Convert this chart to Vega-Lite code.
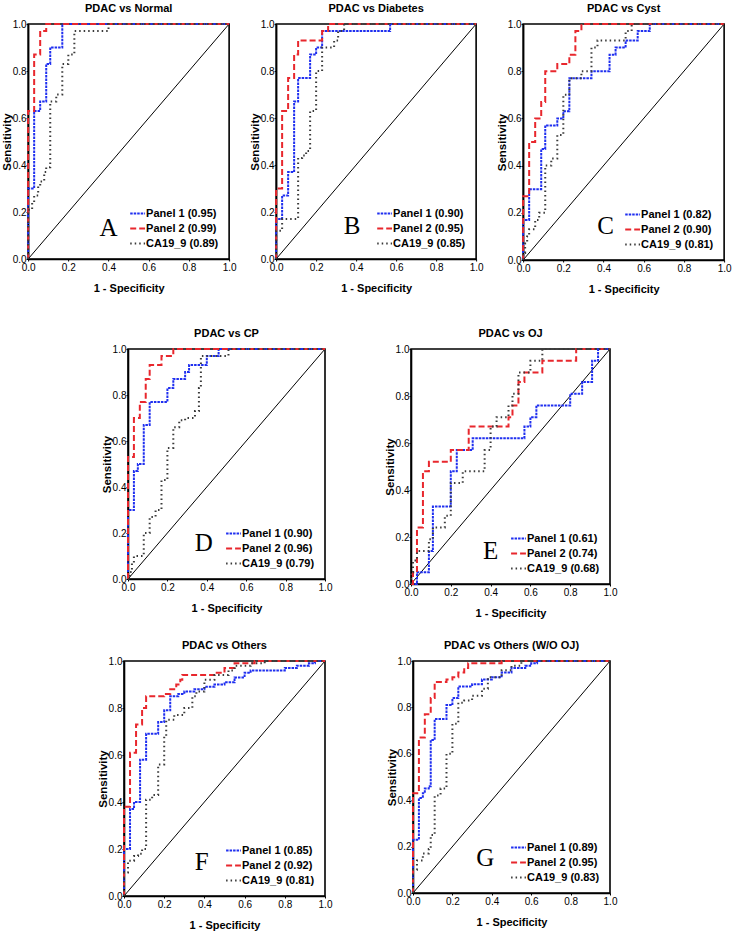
{
"$schema":"https://vega.github.io/schema/vega-lite/v6.json",
"padding":{"left":0,"top":2,"right":0,"bottom":0},
"config":{
 "view":{"stroke":"#000","strokeWidth":1.6},
 "axis":{"labelFont":"Liberation Sans","labelFontSize":10,"labelColor":"#000","labelFlush":false,"titleFont":"Liberation Sans","titleFontSize":11,"titleFontWeight":"bold","titleColor":"#000","domainColor":"#000","domainWidth":1.6,"tickColor":"#000","grid":false,"tickSize":2,"labelPadding":1,"tickCount":5},
 "axisX":{"titlePadding":10},
 "axisY":{"titlePadding":0,"labelPadding":0,"titleFontSize":11.5},
 "title":{"font":"Liberation Sans","fontSize":11,"fontWeight":"bold","color":"#000","offset":5},
 "legend":{"orient":"bottom-right","offset":10,"labelFont":"Liberation Sans","labelFontSize":11,"labelFontWeight":"bold","labelColor":"#000","symbolType":"stroke","symbolSize":220,"symbolStrokeWidth":2,"rowPadding":1,"padding":0,"labelOffset":0}
},
"datasets":{
"A":[
{"s":"Panel 1 (0.95)","x":0,"y":0},{"s":"Panel 1 (0.95)","x":0,"y":0.3},{"s":"Panel 1 (0.95)","x":0.03,"y":0.63},{"s":"Panel 1 (0.95)","x":0.06,"y":0.67},{"s":"Panel 1 (0.95)","x":0.09,"y":0.83},{"s":"Panel 1 (0.95)","x":0.11,"y":0.9},{"s":"Panel 1 (0.95)","x":0.17,"y":1},{"s":"Panel 1 (0.95)","x":1,"y":1},
{"s":"Panel 2 (0.99)","x":0,"y":0},{"s":"Panel 2 (0.99)","x":0,"y":0.63},{"s":"Panel 2 (0.99)","x":0.03,"y":0.87},{"s":"Panel 2 (0.99)","x":0.06,"y":0.97},{"s":"Panel 2 (0.99)","x":0.09,"y":1},{"s":"Panel 2 (0.99)","x":1,"y":1},
{"s":"CA19_9 (0.89)","x":0,"y":0},{"s":"CA19_9 (0.89)","x":0,"y":0.21},{"s":"CA19_9 (0.89)","x":0.02,"y":0.24},{"s":"CA19_9 (0.89)","x":0.03,"y":0.27},{"s":"CA19_9 (0.89)","x":0.05,"y":0.31},{"s":"CA19_9 (0.89)","x":0.06,"y":0.33},{"s":"CA19_9 (0.89)","x":0.08,"y":0.37},{"s":"CA19_9 (0.89)","x":0.09,"y":0.39},{"s":"CA19_9 (0.89)","x":0.11,"y":0.4},{"s":"CA19_9 (0.89)","x":0.11,"y":0.67},{"s":"CA19_9 (0.89)","x":0.14,"y":0.7},{"s":"CA19_9 (0.89)","x":0.17,"y":0.83},{"s":"CA19_9 (0.89)","x":0.2,"y":0.87},{"s":"CA19_9 (0.89)","x":0.23,"y":0.97},{"s":"CA19_9 (0.89)","x":0.4,"y":1},{"s":"CA19_9 (0.89)","x":1,"y":1}
],
"B":[
{"s":"Panel 1 (0.90)","x":0,"y":0},{"s":"Panel 1 (0.90)","x":0,"y":0.17},{"s":"Panel 1 (0.90)","x":0.03,"y":0.27},{"s":"Panel 1 (0.90)","x":0.06,"y":0.37},{"s":"Panel 1 (0.90)","x":0.09,"y":0.67},{"s":"Panel 1 (0.90)","x":0.11,"y":0.77},{"s":"Panel 1 (0.90)","x":0.17,"y":0.87},{"s":"Panel 1 (0.90)","x":0.2,"y":0.9},{"s":"Panel 1 (0.90)","x":0.23,"y":0.97},{"s":"Panel 1 (0.90)","x":0.57,"y":1},{"s":"Panel 1 (0.90)","x":1,"y":1},
{"s":"Panel 2 (0.95)","x":0,"y":0},{"s":"Panel 2 (0.95)","x":0,"y":0.3},{"s":"Panel 2 (0.95)","x":0.03,"y":0.63},{"s":"Panel 2 (0.95)","x":0.06,"y":0.77},{"s":"Panel 2 (0.95)","x":0.09,"y":0.87},{"s":"Panel 2 (0.95)","x":0.11,"y":0.93},{"s":"Panel 2 (0.95)","x":0.23,"y":0.97},{"s":"Panel 2 (0.95)","x":0.26,"y":1},{"s":"Panel 2 (0.95)","x":1,"y":1},
{"s":"CA19_9 (0.85)","x":0,"y":0},{"s":"CA19_9 (0.85)","x":0,"y":0.12},{"s":"CA19_9 (0.85)","x":0.03,"y":0.17},{"s":"CA19_9 (0.85)","x":0.11,"y":0.43},{"s":"CA19_9 (0.85)","x":0.13,"y":0.44},{"s":"CA19_9 (0.85)","x":0.15,"y":0.46},{"s":"CA19_9 (0.85)","x":0.17,"y":0.63},{"s":"CA19_9 (0.85)","x":0.2,"y":0.8},{"s":"CA19_9 (0.85)","x":0.23,"y":0.9},{"s":"CA19_9 (0.85)","x":0.29,"y":0.93},{"s":"CA19_9 (0.85)","x":0.31,"y":0.97},{"s":"CA19_9 (0.85)","x":0.34,"y":1},{"s":"CA19_9 (0.85)","x":1,"y":1}
],
"C":[
{"s":"Panel 1 (0.82)","x":0,"y":0},{"s":"Panel 1 (0.82)","x":0,"y":0.17},{"s":"Panel 1 (0.82)","x":0.03,"y":0.3},{"s":"Panel 1 (0.82)","x":0.09,"y":0.47},{"s":"Panel 1 (0.82)","x":0.11,"y":0.57},{"s":"Panel 1 (0.82)","x":0.17,"y":0.6},{"s":"Panel 1 (0.82)","x":0.2,"y":0.63},{"s":"Panel 1 (0.82)","x":0.23,"y":0.77},{"s":"Panel 1 (0.82)","x":0.34,"y":0.8},{"s":"Panel 1 (0.82)","x":0.43,"y":0.87},{"s":"Panel 1 (0.82)","x":0.46,"y":0.9},{"s":"Panel 1 (0.82)","x":0.51,"y":0.93},{"s":"Panel 1 (0.82)","x":0.57,"y":0.97},{"s":"Panel 1 (0.82)","x":0.63,"y":1},{"s":"Panel 1 (0.82)","x":1,"y":1},
{"s":"Panel 2 (0.90)","x":0,"y":0},{"s":"Panel 2 (0.90)","x":0,"y":0.27},{"s":"Panel 2 (0.90)","x":0.03,"y":0.5},{"s":"Panel 2 (0.90)","x":0.06,"y":0.6},{"s":"Panel 2 (0.90)","x":0.09,"y":0.67},{"s":"Panel 2 (0.90)","x":0.11,"y":0.8},{"s":"Panel 2 (0.90)","x":0.17,"y":0.83},{"s":"Panel 2 (0.90)","x":0.23,"y":0.87},{"s":"Panel 2 (0.90)","x":0.26,"y":0.97},{"s":"Panel 2 (0.90)","x":0.29,"y":1},{"s":"Panel 2 (0.90)","x":1,"y":1},
{"s":"CA19_9 (0.81)","x":0,"y":0},{"s":"CA19_9 (0.81)","x":0,"y":0.03},{"s":"CA19_9 (0.81)","x":0.01,"y":0.07},{"s":"CA19_9 (0.81)","x":0.02,"y":0.1},{"s":"CA19_9 (0.81)","x":0.03,"y":0.13},{"s":"CA19_9 (0.81)","x":0.06,"y":0.17},{"s":"CA19_9 (0.81)","x":0.08,"y":0.2},{"s":"CA19_9 (0.81)","x":0.11,"y":0.4},{"s":"CA19_9 (0.81)","x":0.14,"y":0.43},{"s":"CA19_9 (0.81)","x":0.17,"y":0.53},{"s":"CA19_9 (0.81)","x":0.2,"y":0.7},{"s":"CA19_9 (0.81)","x":0.23,"y":0.77},{"s":"CA19_9 (0.81)","x":0.29,"y":0.8},{"s":"CA19_9 (0.81)","x":0.34,"y":0.9},{"s":"CA19_9 (0.81)","x":0.37,"y":0.93},{"s":"CA19_9 (0.81)","x":0.51,"y":0.97},{"s":"CA19_9 (0.81)","x":0.54,"y":1},{"s":"CA19_9 (0.81)","x":1,"y":1}
],
"D":[
{"s":"Panel 1 (0.90)","x":0,"y":0},{"s":"Panel 1 (0.90)","x":0,"y":0.3},{"s":"Panel 1 (0.90)","x":0.03,"y":0.47},{"s":"Panel 1 (0.90)","x":0.05,"y":0.5},{"s":"Panel 1 (0.90)","x":0.08,"y":0.67},{"s":"Panel 1 (0.90)","x":0.11,"y":0.77},{"s":"Panel 1 (0.90)","x":0.2,"y":0.83},{"s":"Panel 1 (0.90)","x":0.23,"y":0.87},{"s":"Panel 1 (0.90)","x":0.29,"y":0.9},{"s":"Panel 1 (0.90)","x":0.31,"y":0.93},{"s":"Panel 1 (0.90)","x":0.4,"y":0.97},{"s":"Panel 1 (0.90)","x":0.46,"y":1},{"s":"Panel 1 (0.90)","x":1,"y":1},
{"s":"Panel 2 (0.96)","x":0,"y":0},{"s":"Panel 2 (0.96)","x":0,"y":0.53},{"s":"Panel 2 (0.96)","x":0.03,"y":0.7},{"s":"Panel 2 (0.96)","x":0.06,"y":0.77},{"s":"Panel 2 (0.96)","x":0.09,"y":0.87},{"s":"Panel 2 (0.96)","x":0.11,"y":0.93},{"s":"Panel 2 (0.96)","x":0.17,"y":0.97},{"s":"Panel 2 (0.96)","x":0.23,"y":1},{"s":"Panel 2 (0.96)","x":1,"y":1},
{"s":"CA19_9 (0.79)","x":0,"y":0},{"s":"CA19_9 (0.79)","x":0.01,"y":0.03},{"s":"CA19_9 (0.79)","x":0.02,"y":0.07},{"s":"CA19_9 (0.79)","x":0.03,"y":0.1},{"s":"CA19_9 (0.79)","x":0.08,"y":0.2},{"s":"CA19_9 (0.79)","x":0.11,"y":0.27},{"s":"CA19_9 (0.79)","x":0.14,"y":0.3},{"s":"CA19_9 (0.79)","x":0.17,"y":0.43},{"s":"CA19_9 (0.79)","x":0.2,"y":0.57},{"s":"CA19_9 (0.79)","x":0.23,"y":0.66},{"s":"CA19_9 (0.79)","x":0.26,"y":0.69},{"s":"CA19_9 (0.79)","x":0.29,"y":0.7},{"s":"CA19_9 (0.79)","x":0.34,"y":0.73},{"s":"CA19_9 (0.79)","x":0.36,"y":0.83},{"s":"CA19_9 (0.79)","x":0.37,"y":0.97},{"s":"CA19_9 (0.79)","x":0.51,"y":1},{"s":"CA19_9 (0.79)","x":1,"y":1}
],
"E":[
{"s":"Panel 1 (0.61)","x":0,"y":0},{"s":"Panel 1 (0.61)","x":0.03,"y":0.05},{"s":"Panel 1 (0.61)","x":0.09,"y":0.14},{"s":"Panel 1 (0.61)","x":0.11,"y":0.33},{"s":"Panel 1 (0.61)","x":0.2,"y":0.48},{"s":"Panel 1 (0.61)","x":0.23,"y":0.57},{"s":"Panel 1 (0.61)","x":0.31,"y":0.62},{"s":"Panel 1 (0.61)","x":0.57,"y":0.67},{"s":"Panel 1 (0.61)","x":0.6,"y":0.71},{"s":"Panel 1 (0.61)","x":0.63,"y":0.76},{"s":"Panel 1 (0.61)","x":0.8,"y":0.81},{"s":"Panel 1 (0.61)","x":0.86,"y":0.86},{"s":"Panel 1 (0.61)","x":0.91,"y":0.95},{"s":"Panel 1 (0.61)","x":0.94,"y":1},{"s":"Panel 1 (0.61)","x":1,"y":1},
{"s":"Panel 2 (0.74)","x":0,"y":0},{"s":"Panel 2 (0.74)","x":0.01,"y":0.05},{"s":"Panel 2 (0.74)","x":0.03,"y":0.24},{"s":"Panel 2 (0.74)","x":0.06,"y":0.48},{"s":"Panel 2 (0.74)","x":0.09,"y":0.52},{"s":"Panel 2 (0.74)","x":0.2,"y":0.57},{"s":"Panel 2 (0.74)","x":0.29,"y":0.67},{"s":"Panel 2 (0.74)","x":0.49,"y":0.71},{"s":"Panel 2 (0.74)","x":0.51,"y":0.76},{"s":"Panel 2 (0.74)","x":0.54,"y":0.86},{"s":"Panel 2 (0.74)","x":0.57,"y":0.9},{"s":"Panel 2 (0.74)","x":0.66,"y":0.95},{"s":"Panel 2 (0.74)","x":0.83,"y":1},{"s":"Panel 2 (0.74)","x":1,"y":1},
{"s":"CA19_9 (0.68)","x":0,"y":0},{"s":"CA19_9 (0.68)","x":0,"y":0.05},{"s":"CA19_9 (0.68)","x":0.01,"y":0.1},{"s":"CA19_9 (0.68)","x":0.03,"y":0.14},{"s":"CA19_9 (0.68)","x":0.09,"y":0.19},{"s":"CA19_9 (0.68)","x":0.11,"y":0.24},{"s":"CA19_9 (0.68)","x":0.17,"y":0.29},{"s":"CA19_9 (0.68)","x":0.2,"y":0.43},{"s":"CA19_9 (0.68)","x":0.26,"y":0.48},{"s":"CA19_9 (0.68)","x":0.37,"y":0.57},{"s":"CA19_9 (0.68)","x":0.4,"y":0.67},{"s":"CA19_9 (0.68)","x":0.43,"y":0.71},{"s":"CA19_9 (0.68)","x":0.49,"y":0.76},{"s":"CA19_9 (0.68)","x":0.51,"y":0.81},{"s":"CA19_9 (0.68)","x":0.54,"y":0.9},{"s":"CA19_9 (0.68)","x":0.6,"y":0.95},{"s":"CA19_9 (0.68)","x":0.66,"y":1},{"s":"CA19_9 (0.68)","x":1,"y":1}
],
"F":[
{"s":"Panel 1 (0.85)","x":0,"y":0},{"s":"Panel 1 (0.85)","x":0,"y":0.2},{"s":"Panel 1 (0.85)","x":0.03,"y":0.37},{"s":"Panel 1 (0.85)","x":0.05,"y":0.4},{"s":"Panel 1 (0.85)","x":0.08,"y":0.58},{"s":"Panel 1 (0.85)","x":0.11,"y":0.69},{"s":"Panel 1 (0.85)","x":0.17,"y":0.74},{"s":"Panel 1 (0.85)","x":0.2,"y":0.79},{"s":"Panel 1 (0.85)","x":0.23,"y":0.85},{"s":"Panel 1 (0.85)","x":0.27,"y":0.86},{"s":"Panel 1 (0.85)","x":0.3,"y":0.87},{"s":"Panel 1 (0.85)","x":0.35,"y":0.88},{"s":"Panel 1 (0.85)","x":0.4,"y":0.89},{"s":"Panel 1 (0.85)","x":0.45,"y":0.9},{"s":"Panel 1 (0.85)","x":0.5,"y":0.91},{"s":"Panel 1 (0.85)","x":0.55,"y":0.93},{"s":"Panel 1 (0.85)","x":0.6,"y":0.95},{"s":"Panel 1 (0.85)","x":0.63,"y":0.96},{"s":"Panel 1 (0.85)","x":0.8,"y":0.97},{"s":"Panel 1 (0.85)","x":0.86,"y":0.98},{"s":"Panel 1 (0.85)","x":0.92,"y":0.99},{"s":"Panel 1 (0.85)","x":0.95,"y":1},{"s":"Panel 1 (0.85)","x":1,"y":1},
{"s":"Panel 2 (0.92)","x":0,"y":0},{"s":"Panel 2 (0.92)","x":0,"y":0.38},{"s":"Panel 2 (0.92)","x":0.03,"y":0.61},{"s":"Panel 2 (0.92)","x":0.06,"y":0.73},{"s":"Panel 2 (0.92)","x":0.09,"y":0.8},{"s":"Panel 2 (0.92)","x":0.11,"y":0.85},{"s":"Panel 2 (0.92)","x":0.2,"y":0.86},{"s":"Panel 2 (0.92)","x":0.23,"y":0.88},{"s":"Panel 2 (0.92)","x":0.26,"y":0.9},{"s":"Panel 2 (0.92)","x":0.28,"y":0.92},{"s":"Panel 2 (0.92)","x":0.29,"y":0.94},{"s":"Panel 2 (0.92)","x":0.45,"y":0.95},{"s":"Panel 2 (0.92)","x":0.5,"y":0.97},{"s":"Panel 2 (0.92)","x":0.55,"y":0.99},{"s":"Panel 2 (0.92)","x":0.65,"y":1},{"s":"Panel 2 (0.92)","x":1,"y":1},
{"s":"CA19_9 (0.81)","x":0,"y":0},{"s":"CA19_9 (0.81)","x":0,"y":0.1},{"s":"CA19_9 (0.81)","x":0.02,"y":0.15},{"s":"CA19_9 (0.81)","x":0.05,"y":0.17},{"s":"CA19_9 (0.81)","x":0.07,"y":0.18},{"s":"CA19_9 (0.81)","x":0.09,"y":0.2},{"s":"CA19_9 (0.81)","x":0.11,"y":0.41},{"s":"CA19_9 (0.81)","x":0.14,"y":0.43},{"s":"CA19_9 (0.81)","x":0.17,"y":0.56},{"s":"CA19_9 (0.81)","x":0.2,"y":0.68},{"s":"CA19_9 (0.81)","x":0.21,"y":0.75},{"s":"CA19_9 (0.81)","x":0.25,"y":0.77},{"s":"CA19_9 (0.81)","x":0.3,"y":0.8},{"s":"CA19_9 (0.81)","x":0.34,"y":0.85},{"s":"CA19_9 (0.81)","x":0.36,"y":0.87},{"s":"CA19_9 (0.81)","x":0.4,"y":0.92},{"s":"CA19_9 (0.81)","x":0.45,"y":0.94},{"s":"CA19_9 (0.81)","x":0.52,"y":0.96},{"s":"CA19_9 (0.81)","x":0.55,"y":0.98},{"s":"CA19_9 (0.81)","x":0.63,"y":0.99},{"s":"CA19_9 (0.81)","x":0.7,"y":1},{"s":"CA19_9 (0.81)","x":1,"y":1}
],
"G":[
{"s":"Panel 1 (0.89)","x":0,"y":0},{"s":"Panel 1 (0.89)","x":0,"y":0.23},{"s":"Panel 1 (0.89)","x":0.03,"y":0.41},{"s":"Panel 1 (0.89)","x":0.05,"y":0.43},{"s":"Panel 1 (0.89)","x":0.06,"y":0.45},{"s":"Panel 1 (0.89)","x":0.08,"y":0.46},{"s":"Panel 1 (0.89)","x":0.09,"y":0.66},{"s":"Panel 1 (0.89)","x":0.11,"y":0.75},{"s":"Panel 1 (0.89)","x":0.17,"y":0.81},{"s":"Panel 1 (0.89)","x":0.2,"y":0.84},{"s":"Panel 1 (0.89)","x":0.23,"y":0.89},{"s":"Panel 1 (0.89)","x":0.3,"y":0.9},{"s":"Panel 1 (0.89)","x":0.35,"y":0.92},{"s":"Panel 1 (0.89)","x":0.4,"y":0.93},{"s":"Panel 1 (0.89)","x":0.45,"y":0.95},{"s":"Panel 1 (0.89)","x":0.5,"y":0.97},{"s":"Panel 1 (0.89)","x":0.57,"y":0.98},{"s":"Panel 1 (0.89)","x":0.6,"y":0.99},{"s":"Panel 1 (0.89)","x":0.63,"y":1},{"s":"Panel 1 (0.89)","x":1,"y":1},
{"s":"Panel 2 (0.95)","x":0,"y":0},{"s":"Panel 2 (0.95)","x":0,"y":0.43},{"s":"Panel 2 (0.95)","x":0.03,"y":0.67},{"s":"Panel 2 (0.95)","x":0.06,"y":0.77},{"s":"Panel 2 (0.95)","x":0.09,"y":0.84},{"s":"Panel 2 (0.95)","x":0.11,"y":0.91},{"s":"Panel 2 (0.95)","x":0.17,"y":0.92},{"s":"Panel 2 (0.95)","x":0.2,"y":0.93},{"s":"Panel 2 (0.95)","x":0.23,"y":0.95},{"s":"Panel 2 (0.95)","x":0.26,"y":0.97},{"s":"Panel 2 (0.95)","x":0.28,"y":0.99},{"s":"Panel 2 (0.95)","x":0.45,"y":1},{"s":"Panel 2 (0.95)","x":1,"y":1},
{"s":"CA19_9 (0.83)","x":0,"y":0},{"s":"CA19_9 (0.83)","x":0,"y":0.1},{"s":"CA19_9 (0.83)","x":0.02,"y":0.14},{"s":"CA19_9 (0.83)","x":0.05,"y":0.17},{"s":"CA19_9 (0.83)","x":0.08,"y":0.19},{"s":"CA19_9 (0.83)","x":0.09,"y":0.25},{"s":"CA19_9 (0.83)","x":0.11,"y":0.42},{"s":"CA19_9 (0.83)","x":0.14,"y":0.45},{"s":"CA19_9 (0.83)","x":0.17,"y":0.6},{"s":"CA19_9 (0.83)","x":0.2,"y":0.73},{"s":"CA19_9 (0.83)","x":0.23,"y":0.82},{"s":"CA19_9 (0.83)","x":0.26,"y":0.83},{"s":"CA19_9 (0.83)","x":0.3,"y":0.85},{"s":"CA19_9 (0.83)","x":0.35,"y":0.88},{"s":"CA19_9 (0.83)","x":0.38,"y":0.93},{"s":"CA19_9 (0.83)","x":0.45,"y":0.96},{"s":"CA19_9 (0.83)","x":0.5,"y":0.98},{"s":"CA19_9 (0.83)","x":0.55,"y":1},{"s":"CA19_9 (0.83)","x":1,"y":1}
]
},
"vconcat":[
{"hconcat":[
 {"title":"PDAC vs Normal","width":201,"height":235,"layer":[
  {"data":{"values":[{}]},"mark":{"type":"rule","color":"#000","strokeWidth":1},"encoding":{"x":{"datum":0,"type":"quantitative","scale":{"domain":[0,1]},"title":"1 - Specificity","axis":{"format":".1f"}},"y":{"datum":0,"type":"quantitative","scale":{"domain":[0,1]},"title":"Sensitivity","axis":{"format":".1f"}},"x2":{"datum":1},"y2":{"datum":1}}},
  {"data":{"name":"A"},"mark":{"type":"line","interpolate":"step-after","strokeWidth":2},"encoding":{"x":{"field":"x","type":"quantitative","scale":{"domain":[0,1]},"title":"1 - Specificity","axis":{"format":".1f"}},"y":{"field":"y","type":"quantitative","scale":{"domain":[0,1]},"title":"Sensitivity","axis":{"format":".1f"}},"color":{"field":"s","type":"nominal","scale":{"domain":["Panel 1 (0.95)","Panel 2 (0.99)","CA19_9 (0.89)"],"range":["#1f2ff0","#e8272d","#3a3a3a"]},"legend":{"title":null}},"strokeDash":{"field":"s","type":"nominal","scale":{"domain":["Panel 1 (0.95)","Panel 2 (0.99)","CA19_9 (0.89)"],"range":[[2.5,1],[6,3],[1.5,3]]},"legend":{"title":null}},"order":{"value":null}}},
  {"data":{"values":[{"t":"A"}]},"mark":{"type":"text","font":"Liberation Serif","fontSize":25,"color":"#000"},"encoding":{"x":{"datum":0.4,"type":"quantitative"},"y":{"datum":0.13,"type":"quantitative"},"text":{"field":"t"}}}
 ]},
 {"title":"PDAC vs Diabetes","width":200,"height":235,"layer":[
  {"data":{"values":[{}]},"mark":{"type":"rule","color":"#000","strokeWidth":1},"encoding":{"x":{"datum":0,"type":"quantitative","scale":{"domain":[0,1]},"title":"1 - Specificity","axis":{"format":".1f"}},"y":{"datum":0,"type":"quantitative","scale":{"domain":[0,1]},"title":"Sensitivity","axis":{"format":".1f"}},"x2":{"datum":1},"y2":{"datum":1}}},
  {"data":{"name":"B"},"mark":{"type":"line","interpolate":"step-after","strokeWidth":2},"encoding":{"x":{"field":"x","type":"quantitative","scale":{"domain":[0,1]},"title":"1 - Specificity","axis":{"format":".1f"}},"y":{"field":"y","type":"quantitative","scale":{"domain":[0,1]},"title":"Sensitivity","axis":{"format":".1f"}},"color":{"field":"s","type":"nominal","scale":{"domain":["Panel 1 (0.90)","Panel 2 (0.95)","CA19_9 (0.85)"],"range":["#1f2ff0","#e8272d","#3a3a3a"]},"legend":{"title":null}},"strokeDash":{"field":"s","type":"nominal","scale":{"domain":["Panel 1 (0.90)","Panel 2 (0.95)","CA19_9 (0.85)"],"range":[[2.5,1],[6,3],[1.5,3]]},"legend":{"title":null}},"order":{"value":null}}},
  {"data":{"values":[{"t":"B"}]},"mark":{"type":"text","font":"Liberation Serif","fontSize":25,"color":"#000"},"encoding":{"x":{"datum":0.38,"type":"quantitative"},"y":{"datum":0.14,"type":"quantitative"},"text":{"field":"t"}}}
 ]},
 {"title":"PDAC vs Cyst","width":201,"height":236,"layer":[
  {"data":{"values":[{}]},"mark":{"type":"rule","color":"#000","strokeWidth":1},"encoding":{"x":{"datum":0,"type":"quantitative","scale":{"domain":[0,1]},"title":"1 - Specificity","axis":{"format":".1f"}},"y":{"datum":0,"type":"quantitative","scale":{"domain":[0,1]},"title":"Sensitivity","axis":{"format":".1f"}},"x2":{"datum":1},"y2":{"datum":1}}},
  {"data":{"name":"C"},"mark":{"type":"line","interpolate":"step-after","strokeWidth":2},"encoding":{"x":{"field":"x","type":"quantitative","scale":{"domain":[0,1]},"title":"1 - Specificity","axis":{"format":".1f"}},"y":{"field":"y","type":"quantitative","scale":{"domain":[0,1]},"title":"Sensitivity","axis":{"format":".1f"}},"color":{"field":"s","type":"nominal","scale":{"domain":["Panel 1 (0.82)","Panel 2 (0.90)","CA19_9 (0.81)"],"range":["#1f2ff0","#e8272d","#3a3a3a"]},"legend":{"title":null}},"strokeDash":{"field":"s","type":"nominal","scale":{"domain":["Panel 1 (0.82)","Panel 2 (0.90)","CA19_9 (0.81)"],"range":[[2.5,1],[6,3],[1.5,3]]},"legend":{"title":null}},"order":{"value":null}}},
  {"data":{"values":[{"t":"C"}]},"mark":{"type":"text","font":"Liberation Serif","fontSize":25,"color":"#000"},"encoding":{"x":{"datum":0.41,"type":"quantitative"},"y":{"datum":0.145,"type":"quantitative"},"text":{"field":"t"}}}
 ]}
 ],"spacing":11,"resolve":{"scale":{"color":"independent","strokeDash":"independent"},"legend":{"color":"independent","strokeDash":"independent"}}},
{"vconcat":[
{"hconcat":[
{"hconcat":[
 {"title":"PDAC vs CP","width":197,"height":230,"layer":[
  {"data":{"values":[{}]},"mark":{"type":"rule","color":"#000","strokeWidth":1},"encoding":{"x":{"datum":0,"type":"quantitative","scale":{"domain":[0,1]},"title":"1 - Specificity","axis":{"format":".1f"}},"y":{"datum":0,"type":"quantitative","scale":{"domain":[0,1]},"title":"Sensitivity","axis":{"format":".1f"}},"x2":{"datum":1},"y2":{"datum":1}}},
  {"data":{"name":"D"},"mark":{"type":"line","interpolate":"step-after","strokeWidth":2},"encoding":{"x":{"field":"x","type":"quantitative","scale":{"domain":[0,1]},"title":"1 - Specificity","axis":{"format":".1f"}},"y":{"field":"y","type":"quantitative","scale":{"domain":[0,1]},"title":"Sensitivity","axis":{"format":".1f"}},"color":{"field":"s","type":"nominal","scale":{"domain":["Panel 1 (0.90)","Panel 2 (0.96)","CA19_9 (0.79)"],"range":["#1f2ff0","#e8272d","#3a3a3a"]},"legend":{"title":null}},"strokeDash":{"field":"s","type":"nominal","scale":{"domain":["Panel 1 (0.90)","Panel 2 (0.96)","CA19_9 (0.79)"],"range":[[2.5,1],[6,3],[1.5,3]]},"legend":{"title":null}},"order":{"value":null}}},
  {"data":{"values":[{"t":"D"}]},"mark":{"type":"text","font":"Liberation Serif","fontSize":25,"color":"#000"},"encoding":{"x":{"datum":0.385,"type":"quantitative"},"y":{"datum":0.157,"type":"quantitative"},"text":{"field":"t"}}}
 ]},
 {"title":"PDAC vs OJ","width":199,"height":235,"layer":[
  {"data":{"values":[{}]},"mark":{"type":"rule","color":"#000","strokeWidth":1},"encoding":{"x":{"datum":0,"type":"quantitative","scale":{"domain":[0,1]},"title":"1 - Specificity","axis":{"format":".1f"}},"y":{"datum":0,"type":"quantitative","scale":{"domain":[0,1]},"title":"Sensitivity","axis":{"format":".1f"}},"x2":{"datum":1},"y2":{"datum":1}}},
  {"data":{"name":"E"},"mark":{"type":"line","interpolate":"step-after","strokeWidth":2},"encoding":{"x":{"field":"x","type":"quantitative","scale":{"domain":[0,1]},"title":"1 - Specificity","axis":{"format":".1f"}},"y":{"field":"y","type":"quantitative","scale":{"domain":[0,1]},"title":"Sensitivity","axis":{"format":".1f"}},"color":{"field":"s","type":"nominal","scale":{"domain":["Panel 1 (0.61)","Panel 2 (0.74)","CA19_9 (0.68)"],"range":["#1f2ff0","#e8272d","#3a3a3a"]},"legend":{"title":null}},"strokeDash":{"field":"s","type":"nominal","scale":{"domain":["Panel 1 (0.61)","Panel 2 (0.74)","CA19_9 (0.68)"],"range":[[2.5,1],[6,3],[1.5,3]]},"legend":{"title":null}},"order":{"value":null}}},
  {"data":{"values":[{"t":"E"}]},"mark":{"type":"text","font":"Liberation Serif","fontSize":25,"color":"#000"},"encoding":{"x":{"datum":0.4,"type":"quantitative"},"y":{"datum":0.142,"type":"quantitative"},"text":{"field":"t"}}}
 ]}
 ],"spacing":50,"resolve":{"scale":{"color":"independent","strokeDash":"independent"},"legend":{"color":"independent","strokeDash":"independent"}}},
 {"width":14,"height":10,"data":{"values":[]},"mark":"point","view":{"stroke":null}}
],"spacing":0,"resolve":{"scale":{"color":"independent","strokeDash":"independent"},"legend":{"color":"independent","strokeDash":"independent"}}},
{"hconcat":[
{"hconcat":[
 {"title":"PDAC vs Others","width":201,"height":235,"layer":[
  {"data":{"values":[{}]},"mark":{"type":"rule","color":"#000","strokeWidth":1},"encoding":{"x":{"datum":0,"type":"quantitative","scale":{"domain":[0,1]},"title":"1 - Specificity","axis":{"format":".1f"}},"y":{"datum":0,"type":"quantitative","scale":{"domain":[0,1]},"title":"Sensitivity","axis":{"format":".1f"}},"x2":{"datum":1},"y2":{"datum":1}}},
  {"data":{"name":"F"},"mark":{"type":"line","interpolate":"step-after","strokeWidth":2},"encoding":{"x":{"field":"x","type":"quantitative","scale":{"domain":[0,1]},"title":"1 - Specificity","axis":{"format":".1f"}},"y":{"field":"y","type":"quantitative","scale":{"domain":[0,1]},"title":"Sensitivity","axis":{"format":".1f"}},"color":{"field":"s","type":"nominal","scale":{"domain":["Panel 1 (0.85)","Panel 2 (0.92)","CA19_9 (0.81)"],"range":["#1f2ff0","#e8272d","#3a3a3a"]},"legend":{"title":null}},"strokeDash":{"field":"s","type":"nominal","scale":{"domain":["Panel 1 (0.85)","Panel 2 (0.92)","CA19_9 (0.81)"],"range":[[2.5,1],[6,3],[1.5,3]]},"legend":{"title":null}},"order":{"value":null}}},
  {"data":{"values":[{"t":"F"}]},"mark":{"type":"text","font":"Liberation Serif","fontSize":25,"color":"#000"},"encoding":{"x":{"datum":0.387,"type":"quantitative"},"y":{"datum":0.143,"type":"quantitative"},"text":{"field":"t"}}}
 ]},
 {"title":"PDAC vs Others (W/O OJ)","width":197,"height":232,"layer":[
  {"data":{"values":[{}]},"mark":{"type":"rule","color":"#000","strokeWidth":1},"encoding":{"x":{"datum":0,"type":"quantitative","scale":{"domain":[0,1]},"title":"1 - Specificity","axis":{"format":".1f"}},"y":{"datum":0,"type":"quantitative","scale":{"domain":[0,1]},"title":"Sensitivity","axis":{"format":".1f"}},"x2":{"datum":1},"y2":{"datum":1}}},
  {"data":{"name":"G"},"mark":{"type":"line","interpolate":"step-after","strokeWidth":2},"encoding":{"x":{"field":"x","type":"quantitative","scale":{"domain":[0,1]},"title":"1 - Specificity","axis":{"format":".1f"}},"y":{"field":"y","type":"quantitative","scale":{"domain":[0,1]},"title":"Sensitivity","axis":{"format":".1f"}},"color":{"field":"s","type":"nominal","scale":{"domain":["Panel 1 (0.89)","Panel 2 (0.95)","CA19_9 (0.83)"],"range":["#1f2ff0","#e8272d","#3a3a3a"]},"legend":{"title":null}},"strokeDash":{"field":"s","type":"nominal","scale":{"domain":["Panel 1 (0.89)","Panel 2 (0.95)","CA19_9 (0.83)"],"range":[[2.5,1],[6,3],[1.5,3]]},"legend":{"title":null}},"order":{"value":null}}},
  {"data":{"values":[{"t":"G"}]},"mark":{"type":"text","font":"Liberation Serif","fontSize":25,"color":"#000"},"encoding":{"x":{"datum":0.367,"type":"quantitative"},"y":{"datum":0.15,"type":"quantitative"},"text":{"field":"t"}}}
 ]}
 ],"spacing":52,"resolve":{"scale":{"color":"independent","strokeDash":"independent"},"legend":{"color":"independent","strokeDash":"independent"}}},
 {"width":18,"height":10,"data":{"values":[]},"mark":"point","view":{"stroke":null}}
],"spacing":0,"resolve":{"scale":{"color":"independent","strokeDash":"independent"},"legend":{"color":"independent","strokeDash":"independent"}}}
],"spacing":20,"center":true,"resolve":{"scale":{"color":"independent","strokeDash":"independent"},"legend":{"color":"independent","strokeDash":"independent"}}}
],
"spacing":32,"center":true,
"resolve":{"scale":{"color":"independent","strokeDash":"independent"},"legend":{"color":"independent","strokeDash":"independent"}}
}
